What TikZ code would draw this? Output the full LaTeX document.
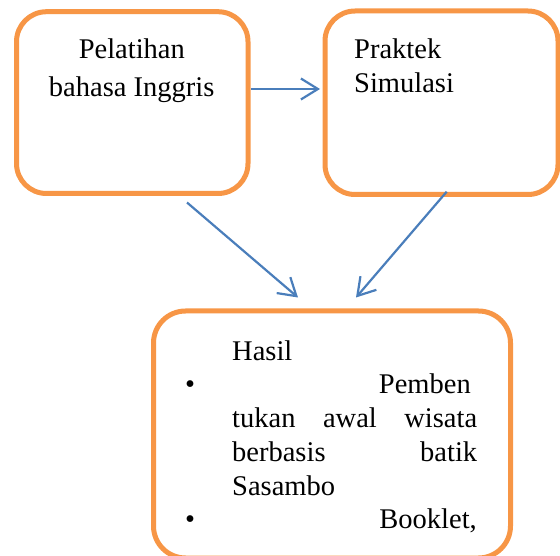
\documentclass[tikz,border=0pt]{standalone}
\usepackage{fontspec}
\setmainfont{Liberation Serif}
\usetikzlibrary{arrows.meta}
\definecolor{boxorange}{RGB}{247,150,70}
\definecolor{arrowblue}{RGB}{74,126,187}
\tikzset{
  roundbox/.style={draw=boxorange, line width=5pt, rounded corners=30pt, fill=white, inner sep=0pt},
  flowarrow/.style={draw=arrowblue, line width=2.2pt, -{Straight Barb[length=17pt,width=21pt,line width=2.2pt]}},
  txt/.style={inner sep=0pt, font=\fontsize{28.5}{34}\selectfont}
}
\begin{document}
\begin{tikzpicture}[x=1pt,y=-1pt]
\useasboundingbox (0,0) rectangle (560,556);
% boxes
\node[roundbox, minimum width=231.5pt, minimum height=181.8pt] (b1) at (132.25,102.6) {};
\node[roundbox, minimum width=233pt, minimum height=183.5pt] (b2) at (441.5,102.75) {};
\node[roundbox, rounded corners=32pt, minimum width=357pt, minimum height=247pt] (b3) at (332,434.5) {};
% texts box 1
\node[txt, anchor=base] (t1a) at (131.8,58.3) {Pelatihan};
\node[txt, anchor=base] (t1b) at (131.7,96.7) {bahasa Inggris};
% texts box 2
\node[txt, anchor=base west] (t2a) at (354,58.3) {Praktek};
\node[txt, anchor=base west] (t2b) at (354,92.7) {Simulasi};
% texts box 3
\node[txt, anchor=base west] (t3a) at (232,360) {Hasil};
\node[txt, anchor=base] (bul1) at (190,393.5) {•};
\node[txt, anchor=base east] (t3b) at (471,393.5) {Pemben};
\node[txt, anchor=base west] (t3c) at (232,427) {\makebox[245pt][s]{tukan\hfill awal\hfill wisata}};
\node[txt, anchor=base west] (t3d) at (232,461) {\makebox[245pt][s]{berbasis\hfill batik}};
\node[txt, anchor=base west] (t3e) at (232,495) {Sasambo};
\node[txt, anchor=base] (bul2) at (190,528.5) {•};
\node[txt, anchor=base east] (t3f) at (477,528.5) {Booklet,};
% arrow end points
\coordinate (a1s) at (251,89);
\coordinate (a1e) at (320,89);
\coordinate (a2s) at (187,202.5);
\coordinate (a2e) at (298,297.5);
\coordinate (a3s) at (446.7,191.7);
\coordinate (a3e) at (356,297.5);
\draw[flowarrow] (a1s) -- (a1e);
\draw[flowarrow] (a2s) -- (a2e);
\draw[flowarrow] (a3s) -- (a3e);
\end{tikzpicture}
\end{document}
